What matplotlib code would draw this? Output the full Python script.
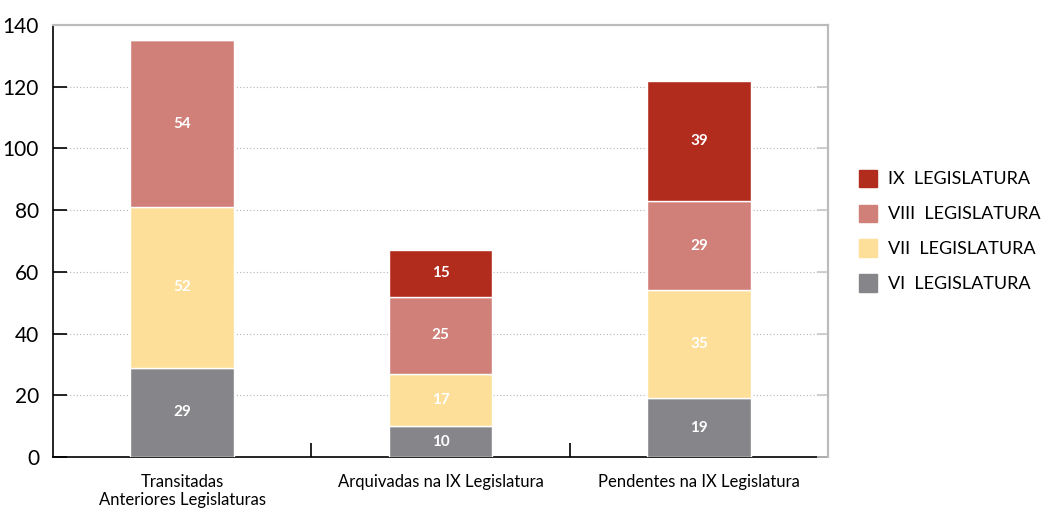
import numpy as np
import matplotlib
matplotlib.use('Agg')
import matplotlib.pyplot as plt
from matplotlib.patches import Patch

categories = ['Transitadas\nAnteriores Legislaturas', 'Arquivadas na IX Legislatura', 'Pendentes na IX Legislatura']
series = ['VI  LEGISLATURA', 'VII  LEGISLATURA', 'VIII  LEGISLATURA', 'IX  LEGISLATURA']
vi = [29, 10, 19]
vii = [52, 17, 35]
viii = [54, 25, 29]
ix = [0, 15, 39]
colors = ['#86868a', '#fedf9a', '#d08079', '#b22c1e']

plt.rcParams['font.family'] = ['Lato', 'DejaVu Sans']

fig = plt.figure(figsize=(10.47, 5.11), dpi=100)
ax = fig.add_axes([0.0506, 0.1057, 0.7404, 0.8453])

x = np.arange(len(categories))
bottom = np.zeros(len(categories))
for vals, col in zip([vi, vii, viii, ix], colors):
    vals = np.array(vals, dtype=float)
    ax.bar(x, vals, 0.4, bottom=bottom, color=col, edgecolor='white', linewidth=1, zorder=3)
    for xi, v, b in zip(x, vals, bottom):
        if v > 0:
            ax.text(xi, b + v / 2, '%d' % v, ha='center', va='center', color='white',
                    fontsize=11, fontweight='bold', zorder=4)
    bottom += vals

ax.set_xlim(-0.5, 2.5)
ax.set_ylim(0, 140)
ax.set_yticks(range(0, 141, 20))
ax.yaxis.grid(True, linestyle=(0, (1, 2)), color='#b5b5b5', linewidth=0.8, zorder=0)
ax.tick_params(axis='y', direction='in', length=10, width=1.2, labelsize=15, pad=10)
ax.set_xticks(x)
ax.set_xticklabels(categories, fontsize=12)
ax.tick_params(axis='x', which='major', length=0, pad=12)
ax.set_xticks([0.5, 1.5], minor=True)
ax.tick_params(axis='x', which='minor', direction='in', length=10, width=1.2)

# gray inner ticks on the right side
ax2 = ax.twinx()
ax2.set_ylim(0, 140)
ax2.set_yticks(range(0, 141, 20))
ax2.tick_params(axis='y', direction='in', length=8, width=1.2, color='#c8c8c8', labelright=False)

ax.spines['left'].set_color('black')
ax.spines['left'].set_linewidth(1.2)
ax.spines['bottom'].set_color('black')
ax.spines['bottom'].set_linewidth(1.2)
for a in (ax, ax2):
    a.spines['top'].set_color('#bbbbbb')
    a.spines['top'].set_linewidth(1.5)
    a.spines['right'].set_color('#bbbbbb')
    a.spines['right'].set_linewidth(1.5)
ax2.spines['left'].set_visible(False)
ax2.spines['bottom'].set_visible(False)

handles = [Patch(color=c) for c in colors[::-1]]
fig.legend(handles, series[::-1], loc='upper left', bbox_to_anchor=(0.805, 0.70),
           frameon=False, fontsize=13, handlelength=1.0, handleheight=1.1,
           labelspacing=0.95, handletextpad=0.6)

fig.savefig('out.png', dpi=100)
